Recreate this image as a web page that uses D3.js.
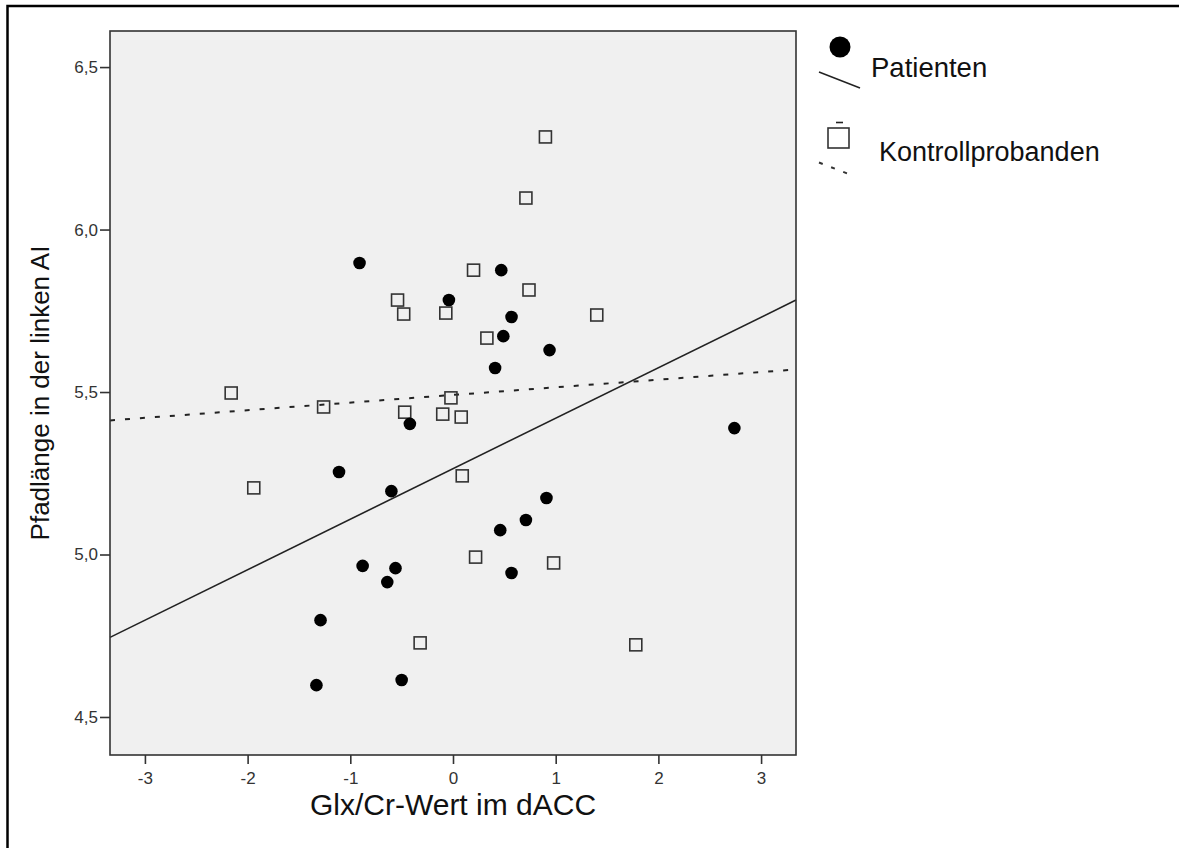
<!DOCTYPE html>
<html>
<head>
<meta charset="utf-8">
<script src="https://cdn.jsdelivr.net/npm/d3@7"></script>
<style>
  body { margin: 0; background: #fff; overflow: hidden; }
  text { font-family: "Liberation Sans", Arial, sans-serif; }
</style>
</head>
<body>
<script>
// Patienten (filled circles): Glx/Cr value and path length
var patX = [-0.91, -0.04, 0.47, 0.57, 0.49, 0.94, 0.41, -0.42, -1.11, -0.60, 2.74,
            0.91, 0.71, 0.46, -0.88, -0.56, -0.64, 0.57, -1.29, -1.33, -0.50];
var patY = [5.897, 5.783, 5.875, 5.731, 5.672, 5.629, 5.574, 5.402, 5.254, 5.195, 5.389,
            5.174, 5.106, 5.075, 4.965, 4.958, 4.915, 4.943, 4.798, 4.598, 4.614];

// Kontrollprobanden (open squares)
var conX = [0.90, 0.71, 0.20, 0.74, -0.54, -0.48, -0.07, 0.33, 1.40, -2.16, -1.26,
            -0.02, -0.47, -0.10, 0.08, 0.09, -1.94, 0.22, 0.98, -0.32, 1.78];
var conY = [6.285, 6.097, 5.875, 5.814, 5.783, 5.740, 5.743, 5.666, 5.737, 5.497, 5.454,
            5.482, 5.438, 5.432, 5.423, 5.242, 5.205, 4.992, 4.974, 4.728, 4.722];

// linear fit lines [intercept, slope]
var patFit = [5.264, 0.1554];
var conFit = [5.491, 0.0235];

var xTicks = [-3, -2, -1, 0, 1, 2, 3];
var yTicks = [4.5, 5.0, 5.5, 6.0, 6.5];
var xDomain = [-3.34, 3.34];
var yDomain = [4.383, 6.611];

var W = 1179, H = 848;
var margin = {top: 31, right: 383, bottom: 93, left: 110},
    width = W - margin.left - margin.right,
    height = H - margin.top - margin.bottom;

var svg = d3.select("body").append("svg")
    .attr("width", W)
    .attr("height", H);

// outer frame (right and bottom edges fall outside the picture)
svg.append("rect")
    .attr("x", 7.5).attr("y", 6)
    .attr("width", 1200).attr("height", 900)
    .attr("fill", "none")
    .attr("stroke", "#000")
    .attr("stroke-width", 2.5);

var g = svg.append("g")
    .attr("transform", "translate(" + margin.left + "," + margin.top + ")");

var x = d3.scaleLinear().domain(xDomain).range([0, width]);
var y = d3.scaleLinear().domain(yDomain).range([height, 0]);

g.append("rect")
    .attr("width", width)
    .attr("height", height)
    .attr("fill", "#f0f0f0");

// fit lines
var line = d3.line()
    .x(function(d) { return x(d[0]); })
    .y(function(d) { return y(d[1]); });

function fitPts(f) {
  return xDomain.map(function(v) { return [v, f[0] + f[1] * v]; });
}

g.append("path")
    .datum(fitPts(patFit))
    .attr("d", line)
    .attr("fill", "none")
    .attr("stroke", "#222")
    .attr("stroke-width", 1.6);

g.append("path")
    .datum(fitPts(conFit))
    .attr("d", line)
    .attr("fill", "none")
    .attr("stroke", "#222")
    .attr("stroke-width", 2)
    .attr("stroke-dasharray", "5,10");

// points
var sq = 12;
g.selectAll(".con")
    .data(d3.range(conX.length))
    .enter().append("rect")
    .attr("class", "con")
    .attr("x", function(i) { return x(conX[i]) - sq / 2; })
    .attr("y", function(i) { return y(conY[i]) - sq / 2; })
    .attr("width", sq).attr("height", sq)
    .attr("fill", "none")
    .attr("stroke", "#333")
    .attr("stroke-width", 1.6);

g.selectAll(".pat")
    .data(d3.range(patX.length))
    .enter().append("circle")
    .attr("class", "pat")
    .attr("cx", function(i) { return x(patX[i]); })
    .attr("cy", function(i) { return y(patY[i]); })
    .attr("r", 6.3)
    .attr("fill", "#000");

// frame of plot
g.append("rect")
    .attr("width", width)
    .attr("height", height)
    .attr("fill", "none")
    .attr("stroke", "#333")
    .attr("stroke-width", 1.6);

// axes
var xAxis = g.append("g")
    .attr("transform", "translate(0," + height + ")")
    .call(d3.axisBottom(x).tickValues(xTicks).tickSize(9)
      .tickFormat(function(d) { return String(d); }));
var yAxis = g.append("g")
    .call(d3.axisLeft(y).tickValues(yTicks).tickSize(10)
      .tickFormat(function(d) { return d3.format(".1f")(d).replace(".", ","); }));

[xAxis, yAxis].forEach(function(a) {
  a.select(".domain").remove();
  a.selectAll("line").attr("stroke", "#333").attr("stroke-width", 1.6);
  a.selectAll("text").attr("fill", "#333").style("font-size", "17px");
});
xAxis.selectAll("text").attr("dy", "1.0em");
yAxis.selectAll("text").attr("x", -12);

// axis titles
svg.append("text")
    .attr("x", margin.left + width / 2)
    .attr("y", 815)
    .attr("text-anchor", "middle")
    .style("font-size", "30px")
    .attr("fill", "#111")
    .text("Glx/Cr-Wert im dACC");

svg.append("text")
    .attr("transform", "translate(49," + (margin.top + height / 2) + ") rotate(-90)")
    .attr("text-anchor", "middle")
    .style("font-size", "26px")
    .attr("fill", "#111")
    .text("Pfadlänge in der linken AI");

// legend
var lg = svg.append("g");
lg.append("circle").attr("cx", 840).attr("cy", 47).attr("r", 10.5).attr("fill", "#000");
lg.append("line").attr("x1", 819).attr("y1", 72).attr("x2", 860).attr("y2", 88)
    .attr("stroke", "#222").attr("stroke-width", 1.6);
lg.append("text").attr("x", 871).attr("y", 77).style("font-size", "27.5px")
    .attr("fill", "#111").text("Patienten");

lg.append("line").attr("x1", 836).attr("y1", 122.5).attr("x2", 843).attr("y2", 122.5)
    .attr("stroke", "#222").attr("stroke-width", 1.6);
lg.append("rect").attr("x", 828).attr("y", 128).attr("width", 21).attr("height", 20)
    .attr("fill", "none").attr("stroke", "#333").attr("stroke-width", 1.6);
lg.append("line").attr("x1", 819).attr("y1", 162.5).attr("x2", 855).attr("y2", 176.5)
    .attr("stroke", "#333").attr("stroke-width", 2).attr("stroke-dasharray", "4,9");
lg.append("text").attr("x", 879).attr("y", 161).style("font-size", "27px")
    .attr("fill", "#111").text("Kontrollprobanden");
</script>
</body>
</html>
